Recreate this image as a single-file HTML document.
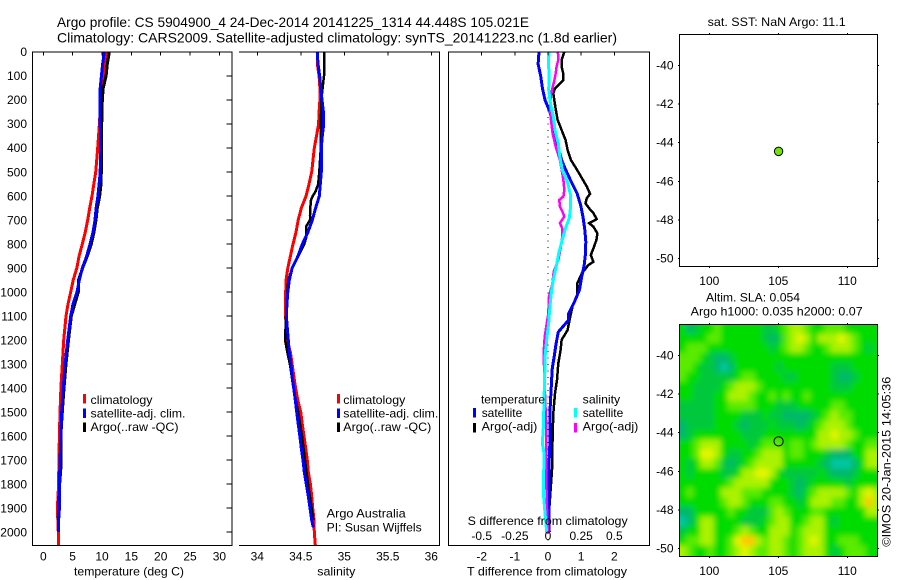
<!DOCTYPE html>
<html lang="en">
<head>
<meta charset="utf-8">
<title>Argo profile CS 5904900_4</title>
<style>
html,body{margin:0;padding:0;background:#fff;width:900px;height:580px;overflow:hidden}
svg{display:block}
text{font-family:"Liberation Sans",sans-serif;font-size:12px;fill:#000}
.t14{font-size:14px}
</style>
</head>
<body>
<svg id="fig" xmlns="http://www.w3.org/2000/svg" width="900" height="580" viewBox="0 0 900 580">
<defs>
<filter id="soft" x="-10%" y="-10%" width="120%" height="120%"><feGaussianBlur stdDeviation="3"/></filter>
<clipPath id="hm-clip"><rect x="680" y="325" width="197" height="231"/></clipPath>
</defs>
<rect x="0" y="0" width="900" height="580" fill="#fff"/>

<text class="t14" x="57" y="27" textLength="472" lengthAdjust="spacingAndGlyphs">Argo profile: CS 5904900_4 24-Dec-2014 20141225_1314 44.448S 105.021E</text>
<text class="t14" x="57" y="42.5" textLength="560" lengthAdjust="spacingAndGlyphs">Climatology: CARS2009. Satellite-adjusted climatology: synTS_20141223.nc (1.8d earlier)</text>

<g id="p1"></g>
<g id="p2"></g>
<g id="p3"></g>
<g id="p4"></g>
<g id="p5"></g>

<text x="74" y="575.5" textLength="110" lengthAdjust="spacingAndGlyphs">temperature (deg C)</text>
<text x="317.3" y="575.5" textLength="38" lengthAdjust="spacingAndGlyphs">salinity</text>
<text x="467" y="575.5" textLength="160" lengthAdjust="spacingAndGlyphs">T difference from climatology</text>
<text x="467.7" y="525" textLength="160" lengthAdjust="spacingAndGlyphs">S difference from climatology</text>

<g>
<rect x="83" y="394" width="3" height="9.5" fill="#f00"/>
<rect x="83" y="408.5" width="3" height="9.5" fill="#00f"/>
<rect x="83" y="422.5" width="3" height="9.5" fill="#000"/>
<text x="90.5" y="404" textLength="62" lengthAdjust="spacingAndGlyphs">climatology</text>
<text x="90.5" y="417.5" textLength="95" lengthAdjust="spacingAndGlyphs">satellite-adj. clim.</text>
<text x="90.5" y="431" textLength="88" lengthAdjust="spacingAndGlyphs">Argo(..raw -QC)</text>
</g>
<g>
<rect x="337" y="394" width="3" height="9.5" fill="#f00"/>
<rect x="337" y="408.5" width="3" height="9.5" fill="#00f"/>
<rect x="337" y="422.5" width="3" height="9.5" fill="#000"/>
<text x="343.3" y="404" textLength="62" lengthAdjust="spacingAndGlyphs">climatology</text>
<text x="343.3" y="417.5" textLength="95" lengthAdjust="spacingAndGlyphs">satellite-adj. clim.</text>
<text x="343.3" y="431" textLength="88" lengthAdjust="spacingAndGlyphs">Argo(..raw -QC)</text>
<text x="326.7" y="517.5" textLength="79" lengthAdjust="spacingAndGlyphs">Argo Australia</text>
<text x="326.7" y="531.5" textLength="95" lengthAdjust="spacingAndGlyphs">PI: Susan Wijffels</text>
</g>
<g>
<text x="481" y="403.5" textLength="64" lengthAdjust="spacingAndGlyphs">temperature</text>
<text x="582.7" y="403.5" textLength="37.5" lengthAdjust="spacingAndGlyphs">salinity</text>
<rect x="473" y="408" width="3" height="9.5" fill="#00f"/>
<rect x="473" y="423" width="3" height="9.5" fill="#000"/>
<rect x="574" y="408" width="3" height="9.5" fill="#0ff"/>
<rect x="574" y="423" width="3" height="9.5" fill="#f0f"/>
<text x="481.7" y="417" textLength="40.6" lengthAdjust="spacingAndGlyphs">satellite</text>
<text x="481.7" y="430.7" textLength="55.6" lengthAdjust="spacingAndGlyphs">Argo(-adj)</text>
<text x="582.7" y="417" textLength="40.6" lengthAdjust="spacingAndGlyphs">satellite</text>
<text x="582.7" y="430.7" textLength="55.6" lengthAdjust="spacingAndGlyphs">Argo(-adj)</text>
</g>

<text x="707.7" y="26" textLength="138" lengthAdjust="spacingAndGlyphs">sat. SST: NaN Argo: 11.1</text>
<text x="706" y="301.7" textLength="94" lengthAdjust="spacingAndGlyphs">Altim. SLA: 0.054</text>
<text x="690.7" y="315.7" textLength="172" lengthAdjust="spacingAndGlyphs">Argo h1000: 0.035 h2000: 0.07</text>
<text transform="translate(890.7 546.7) rotate(-90)" x="0" y="0" textLength="170" lengthAdjust="spacingAndGlyphs">©IMOS 20-Jan-2015 14:05:36</text>
</svg>

<script>
/* ---------- tick labels ---------- */
const depthTicks = [0,100,200,300,400,500,600,700,800,900,1000,1100,1200,1300,1400,1500,1600,1700,1800,1900,2000];
const tempTicks = [0,5,10,15,20,25,30];
const salTicks = [34,34.5,35,35.5,36];
const tDiffTicks = [-2,-1,0,1,2];
const sDiffTicks = [-0.5,-0.25,0,0.25,0.5];
const lonTicks = [100,105,110];
const latTicks = [-40,-42,-44,-46,-48,-50];

/* ---------- temperature profiles (deg C) ---------- */
const tClimDepth = [0,100,150,200,300,400,500,550,600,650,700,750,800,850,900,950,1000,1050,1100,1200,1300,1400,1500,1600,1700,1800,1900,2000,2053];
const tClimVals = [10.7,10.3,10.1,9.8,9.55,9.26,8.92,8.6,8.3,7.9,7.56,7.15,6.65,6.1,5.7,5.1,4.66,4.2,3.87,3.47,3.24,3.0,2.85,2.75,2.65,2.6,2.4,2.55,2.55];
const tSatDepth = [0,50,100,150,200,300,400,500,550,600,650,700,750,800,850,900,950,1000,1050,1100,1200,1300,1400,1500,1600,1700,1800,1900,1950,2000];
const tSatVals = [10.4,10.1,9.9,9.7,9.66,9.7,9.76,9.7,9.5,9.3,9.0,8.8,8.46,7.95,7.4,6.65,6.13,5.74,5.06,4.67,4.15,3.7,3.4,3.13,3.0,2.85,2.75,2.75,2.6,2.55];
const tArgoDepth = [0,50,100,150,200,300,400,500,550,600,650,700,750,800,850,900,950,1000,1100,1200,1300,1400,1500,1550,1600,1730,1800,1900,1950];
const tArgoVals = [11.25,10.9,10.7,10.2,10.05,9.95,9.88,9.88,9.83,9.6,9.2,8.98,8.64,8.18,7.5,6.7,6.0,5.97,4.77,4.3,3.87,3.53,3.24,3.1,3.0,3.0,2.78,2.65,2.5];

/* ---------- salinity profiles ---------- */
const sClimDepth = [0,50,100,150,200,250,300,350,400,450,500,550,600,650,700,750,800,850,900,950,1000,1100,1200,1250,1300,1350,1400,1450,1500,1550,1600,1650,1700,1750,1800,1850,1900,1950,2000,2053];
const sClimVals = [34.69,34.69,34.71,34.72,34.72,34.71,34.705,34.68,34.655,34.64,34.625,34.594,34.56,34.506,34.47,34.445,34.41,34.38,34.35,34.33,34.326,34.325,34.338,34.38,34.40,34.42,34.44,34.465,34.5,34.517,34.537,34.556,34.575,34.586,34.61,34.625,34.637,34.652,34.655,34.667];
const sSatDepth = [0,50,100,150,200,250,300,350,400,500,550,600,650,700,750,800,850,900,950,1000,1050,1100,1150,1200,1250,1300,1350,1400,1450,1500,1550,1600,1650,1700,1750,1800,1850,1900,1950,1980];
const sSatVals = [34.69,34.698,34.717,34.729,34.744,34.76,34.763,34.747,34.736,34.736,34.724,34.713,34.67,34.632,34.583,34.517,34.468,34.40,34.368,34.35,34.34,34.335,34.345,34.356,34.368,34.387,34.40,34.418,34.437,34.453,34.47,34.49,34.506,34.525,34.54,34.563,34.586,34.606,34.625,34.645];
const sArgoDepth = [0,100,120,200,300,400,500,550,580,600,620,650,680,700,725,750,775,800,850,900,950,1000,1100,1200,1250,1300,1350,1400,1500,1600,1700,1800,1900,1950];
const sArgoVals = [34.767,34.767,34.76,34.736,34.73,34.73,34.713,34.70,34.67,34.637,34.614,34.61,34.606,34.606,34.563,34.56,34.56,34.54,34.47,34.40,34.356,34.345,34.33,34.32,34.345,34.375,34.395,34.415,34.47,34.514,34.548,34.583,34.625,34.644];

/* ---------- differences from climatology ---------- */
const dtSatDepth = [0,50,100,150,200,250,300,350,400,450,490,540,590,640,690,740,790,840,890,940,990,1040,1090,1116,1166,1216,1266,1316,1366,1416,1466,1516,1616,1716,1966,2000];
const dtSatVals = [-0.27,-0.30,-0.22,-0.17,-0.09,0.06,0.14,0.23,0.31,0.41,0.53,0.70,0.88,0.99,1.06,1.11,1.14,1.13,1.09,1.01,0.95,0.80,0.62,0.62,0.31,0.24,0.19,0.13,0.11,0.09,0.07,0.06,0.06,0.03,0.03,0.04];
const dtArgoDepth = [0,33,61,89,117,131,151,172,228,283,325,367,408,450,489,541,560,591,609,630,651,671,696,713,727,755,783,818,846,874,887,922,964,1012,1060,1109,1158,1199,1241,1297,1366,1422,1505,1602,1741,1900,1950];
const dtArgoVals = [0.49,0.41,0.41,0.46,0.46,0.36,0.21,0.16,0.22,0.29,0.41,0.53,0.59,0.69,0.87,1.09,1.17,1.27,1.17,1.13,1.24,1.37,1.47,1.24,1.37,1.49,1.46,1.37,1.29,1.37,1.22,1.02,0.88,0.88,0.74,0.66,0.59,0.41,0.38,0.31,0.27,0.21,0.16,0.14,0.12,0.04,0.03];
const dsSatDepth = [0,33,89,158,214,269,325,381,436,491,541,591,641,691,741,791,841,891,941,991,1041,1091,1116,1199,1255,1450,1560,1630,1670,1840,1950,2000];
const dsSatVals = [0.01,0.0025,0.0075,0.005,0.018,0.04,0.053,0.078,0.09,0.108,0.146,0.168,0.171,0.161,0.128,0.103,0.08,0.063,0.043,0.028,0.018,0.01,0.0075,-0.01,-0.02,-0.03,-0.035,-0.043,-0.03,-0.035,-0.018,-0.01];
const dsArgoDepth = [0,33,61,89,117,151,186,228,283,339,394,450,491,533,574,602,616,644,664,685,713,734,769,818,866,915,964,1019,1089,1185,1255,1394,1533,1741,1949,2005];
const dsArgoVals = [0.075,0.078,0.065,0.058,0.048,0.033,0.02,0.015,0.023,0.035,0.058,0.09,0.103,0.116,0.123,0.116,0.085,0.09,0.108,0.123,0.09,0.108,0.108,0.095,0.078,0.043,0.033,0.0075,0.0025,-0.025,-0.033,-0.025,-0.015,-0.015,-0.005,0];

/* ---------- float position ---------- */
const floatLon = [105.021];
const floatLat = [-44.448];

/* ---------- SLA map: colour level per half-degree cell, north to south ---------- */
const slaRows = [
[3,1,2,3,3,4,3,3,3,3,3,3,2,2,3,4,5,5,4,3,3,4,4,4,3,3,3,3,3],
[3,3,3,3,4,4,3,3,3,3,3,3,2,1,2,4,5,6,5,3,5,5,5,6,5,4,3,3,3],
[3,4,4,4,3,3,3,3,3,3,3,3,3,2,3,4,5,5,4,3,3,4,5,5,5,4,3,2,3],
[4,4,4,3,2,1,1,2,3,3,3,3,3,3,3,3,3,3,3,3,3,3,3,3,3,3,3,3,3],
[4,4,3,2,2,1,0,1,3,3,3,3,3,3,2,3,3,3,3,3,3,3,2,2,2,3,3,3,3],
[4,3,3,2,2,2,2,2,3,4,4,3,3,3,3,2,2,3,3,3,3,3,2,1,1,2,3,3,3],
[3,3,2,2,2,2,3,4,5,5,5,4,3,3,3,3,3,3,3,3,3,3,2,2,2,3,3,3,3],
[3,3,2,2,2,3,3,5,5,5,4,3,3,4,3,4,3,3,4,3,3,3,3,3,3,3,3,3,3],
[2,2,2,2,2,3,3,4,4,4,4,3,3,3,2,2,2,3,3,3,3,3,4,4,3,3,3,3,3],
[2,2,2,2,2,3,3,3,3,2,2,2,3,2,2,1,1,1,1,2,3,4,5,4,4,3,3,3,3],
[1,2,2,2,2,3,3,3,2,1,2,2,2,3,2,2,2,1,2,3,4,5,5,5,4,3,3,3,3],
[1,2,3,3,3,3,3,3,3,2,2,2,3,3,3,3,3,3,3,3,5,5,6,5,5,4,3,3,3],
[3,3,4,5,5,5,3,3,3,3,2,3,4,4,4,3,4,4,3,4,5,5,5,5,4,3,3,4,4],
[3,3,4,6,6,5,3,2,2,3,3,4,5,5,5,3,4,4,3,3,3,2,1,1,1,3,3,5,5],
[3,2,3,5,5,4,2,1,2,3,4,5,5,5,5,3,3,3,3,3,2,1,0,0,0,1,3,5,5],
[3,2,3,3,3,3,2,2,3,5,5,6,6,5,3,2,2,2,2,2,3,2,1,1,1,2,3,3,3],
[3,3,3,3,3,3,3,4,5,5,5,5,5,3,3,3,2,1,2,3,3,3,3,3,2,3,3,3,3],
[3,4,3,3,3,3,5,5,5,4,4,4,3,3,3,3,2,1,3,4,5,5,5,5,4,3,5,6,5],
[3,3,3,3,3,3,4,5,5,4,3,3,3,4,4,3,3,2,3,5,5,5,4,4,3,3,5,7,5],
[1,1,3,3,3,3,3,4,3,3,2,2,2,4,5,4,3,3,3,4,4,3,3,3,3,3,3,5,5],
[0,1,3,5,5,3,3,3,3,2,2,2,3,4,5,5,3,3,4,5,5,3,2,3,3,3,3,3,3],
[2,3,3,5,5,3,3,3,4,5,4,3,3,5,5,5,3,4,5,5,5,3,3,3,3,3,3,3,3],
[3,4,4,5,5,3,3,4,6,7,7,5,4,5,5,4,3,4,5,6,5,3,3,4,4,4,3,3,3],
[5,4,3,3,4,3,3,4,5,6,5,4,4,5,5,4,3,4,5,5,5,3,2,3,4,4,4,3,3]
];
const slaPalette = ['#00c8a5','#00b86a','#00c83c','#00dc00','#5aeb00','#aaf200','#e6f500','#ffc800'];

/* ---------- axis functions ---------- */
function yDepth(d){ return 52 + d * 0.2401; }
function xTemp(v){ return 43.3 + v * 5.87; }
function xSal(v){ return 257.3 + (v - 34) * 87; }
function xDT(v){ return 548 + v * 33.15; }
function xDS(v){ return 548 + v * 132.6; }
function xLon(v){ return 709.3 + (v - 100) * 13.8; }
function yLatTop(v){ return 65.7 + (-40 - v) * 19.26; }
function yLatBot(v){ return 355.7 + (-40 - v) * 19.26; }

const NS = 'http://www.w3.org/2000/svg';
function mk(tag, parent, attrs, txt){
  const el = document.createElementNS(NS, tag);
  for (const k in attrs) el.setAttribute(k, attrs[k]);
  if (txt !== undefined) el.textContent = txt;
  parent.appendChild(el);
  return el;
}
function seg(parent, x1, y1, x2, y2, w){
  return mk('line', parent, {x1:x1, y1:y1, x2:x2, y2:y2, stroke:'#000', 'stroke-width':w || 1, 'shape-rendering':'crispEdges'});
}
function profile(parent, depths, vals, xf, color, width){
  const pts = depths.map(function(d, i){ return xf(vals[i]).toFixed(1) + ',' + yDepth(d).toFixed(1); }).join(' ');
  return mk('polyline', parent, {points:pts, fill:'none', stroke:color, 'stroke-width':width, 'stroke-linejoin':'miter', 'shape-rendering':'crispEdges'});
}
function label(parent, x, y, anchor, s){
  return mk('text', parent, {x:x, y:y, 'text-anchor':anchor}, s);
}

const p1 = document.getElementById('p1');
const p2 = document.getElementById('p2');
const p3 = document.getElementById('p3');
const p4 = document.getElementById('p4');
const p5 = document.getElementById('p5');

/* ---------- panel 1: temperature ---------- */
let el;
el = profile(p1, tClimDepth, tClimVals, xTemp, '#f00', 3);


el = profile(p1, tArgoDepth, tArgoVals, xTemp, '#000', 3);


el = profile(p1, tSatDepth, tSatVals, xTemp, '#00f', 3);



el = mk('rect', p1, {x:32.5, y:52, width:199.5, height:493.5, fill:'none', stroke:'#000', 'stroke-width':1, 'shape-rendering':'crispEdges'});


depthTicks.forEach(function(d){
  const y = yDepth(d);
  seg(p1, 226.5, y, 232, y);
  const t = label(p1, 27, y + 4.2, 'end', String(d));
  
  
});
tempTicks.forEach(function(v){
  const x = xTemp(v);
  seg(p1, x, 52, x, 55.5);
  const t = label(p1, x, 560.7, 'middle', String(v));
  
  
});

/* ---------- panel 2: salinity ---------- */
el = profile(p2, sClimDepth, sClimVals, xSal, '#f00', 3);


el = profile(p2, sArgoDepth, sArgoVals, xSal, '#000', 2.5);


el = profile(p2, sSatDepth, sSatVals, xSal, '#00f', 3);



el = mk('path', p2, {d:'M239 52H439.5V545.5H239', fill:'none', stroke:'#000', 'stroke-width':1, 'shape-rendering':'crispEdges'});


salTicks.forEach(function(v){
  const x = xSal(v);
  seg(p2, x, 52, x, 55.5);
  const t = label(p2, x, 560.7, 'middle', String(v));
  
  
});

/* ---------- panel 3: differences ---------- */
el = mk('line', p3, {x1:548, y1:52, x2:548, y2:545, stroke:'#000', 'stroke-width':1, 'stroke-dasharray':'1 5.5', 'shape-rendering':'crispEdges'});


el = profile(p3, dtArgoDepth, dtArgoVals, xDT, '#000', 2.5);


el = profile(p3, dtSatDepth, dtSatVals, xDT, '#00f', 3);


el = profile(p3, dsArgoDepth, dsArgoVals, xDS, '#f0f', 2.5);


el = profile(p3, dsSatDepth, dsSatVals, xDS, '#0ff', 3);



el = mk('rect', p3, {x:448.5, y:52, width:201, height:493.5, fill:'none', stroke:'#000', 'stroke-width':1, 'shape-rendering':'crispEdges'});


tDiffTicks.forEach(function(v){
  const x = xDT(v);
  seg(p3, x, 52, x, 55.5);
  const t = label(p3, x, 560.7, 'middle', String(v));
  
  
});
sDiffTicks.forEach(function(v){
  const t = label(p3, xDS(v), 540, 'middle', String(v));
  
  
});

/* ---------- panel 4: SST map ---------- */
function mapFrame(parent, top, bottom, yf, name){
  const f = mk('rect', parent, {x:679.5, y:top, width:198, height:bottom - top, fill:'none', stroke:'#000', 'stroke-width':1, 'shape-rendering':'crispEdges'});
  
  
  lonTicks.forEach(function(v){
    const x = xLon(v);
    seg(parent, x, top - 1.5, x, top);
    seg(parent, x, bottom, x, bottom + 1.5);
    const t = label(parent, x, bottom + 18.5, 'middle', String(v));
    
    
  });
  latTicks.forEach(function(v){
    const y = yf(v);
    seg(parent, 877.5, y, 879, y);
    seg(parent, 678, y, 679.5, y);
    const t = label(parent, 673.5, y + 4, 'end', String(v));
    
    
  });
}
mapFrame(p4, 34.5, 266.5, yLatTop, 'sst-map-frame');
el = mk('circle', p4, {cx:xLon(floatLon[0]), cy:yLatTop(floatLat[0]), r:4.2, fill:'#6ee600', stroke:'#000', 'stroke-width':1});



/* ---------- panel 5: SLA heat map ---------- */
const hmClip = mk('g', p5, {'clip-path':'url(#hm-clip)'});


const hmBlur = mk('g', hmClip, {filter:'url(#soft)'});
slaRows.forEach(function(row, r){
  const lat = -38.6 - 0.5 * r;
  row.forEach(function(level, c){
    const lon = 98.07 + 0.5 * c;
    let x0 = xLon(lon - 0.25), x1 = xLon(lon + 0.25);
    let y0 = yLatBot(lat + 0.25), y1 = yLatBot(lat - 0.25);
    if (c === 0) x0 -= 14;
    if (c === row.length - 1) x1 += 14;
    if (r === 0) y0 -= 14;
    if (r === slaRows.length - 1) y1 += 14;
    const cell = mk('rect', hmBlur, {x:x0.toFixed(2), y:y0.toFixed(2), width:(x1 - x0 + 0.6).toFixed(2), height:(y1 - y0 + 0.6).toFixed(2), fill:slaPalette[level]});
    
    
  });
});
mapFrame(p5, 324.5, 556.5, yLatBot, 'sla-map-frame');
el = mk('circle', p5, {cx:xLon(floatLon[0]), cy:yLatBot(floatLat[0]), r:4.6, fill:'none', stroke:'#000', 'stroke-width':1});


</script>
</body>
</html>
